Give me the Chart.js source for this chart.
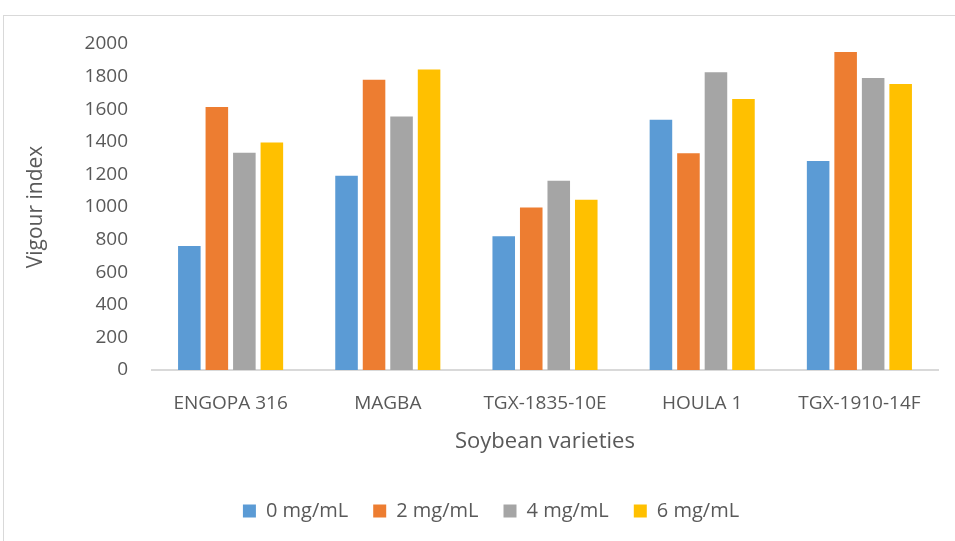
<!DOCTYPE html>
<html>
<head>
<meta charset="utf-8">
<script src="https://cdn.jsdelivr.net/npm/chart.js@4.4.1/dist/chart.umd.min.js"></script>
<style>
  html, body { margin: 0; padding: 0; background: #fff; }
  #wrap { position: relative; width: 955px; height: 541px; overflow: hidden; }
  #frame { position: absolute; left: 3px; top: 15px; width: 980px; height: 560px; border: 1px solid #d9d9d9; }
  canvas { position: absolute; left: 0; top: 0; }
</style>
</head>
<body>
<div id="wrap">
  <div id="frame"></div>
  <canvas id="grafico" width="955" height="541"></canvas>
</div>
<script>
// Dados do gráfico
const variedades = ["ENGOPA 316", "MAGBA", "TGX-1835-10E", "HOULA 1", "TGX-1910-14F"];
const dose0 = [761, 1192, 820, 1536, 1282];
const dose2 = [1614, 1781, 997, 1329, 1951];
const dose4 = [1333, 1555, 1161, 1826, 1791];
const dose6 = [1395, 1844, 1044, 1662, 1754];
const rotulosDoses = ["0 mg/mL", "2 mg/mL", "4 mg/mL", "6 mg/mL"];
const cores = ["#5B9BD5", "#ED7D31", "#A5A5A5", "#FFC000"];

const fonte = "'Open Sans', 'Liberation Sans', sans-serif";
const cinza = "#595959";

const series = [dose0, dose2, dose4, dose6];

new Chart(document.getElementById("grafico").getContext("2d"), {
    type: "bar",
    data: {
        labels: variedades,
        datasets: series.map((valores, i) => ({
            label: rotulosDoses[i],
            data: valores,
            backgroundColor: cores[i],
            borderWidth: 0,
            barPercentage: 0.82,
            categoryPercentage: 0.7
        }))
    },
    options: {
        responsive: false,
        animation: false,
        layout: { padding: { top: 44, right: 17, left: 44, bottom: 10 } },
        plugins: {
            tooltip: { enabled: false },
            legend: {
                position: "bottom",
                labels: {
                    boxWidth: 13,
                    boxHeight: 13,
                    padding: 25,
                    color: cinza,
                    font: { family: fonte, size: 20 }
                }
            }
        },
        scales: {
            x: {
                grid: { display: false },
                border: { color: "#d9d9d9", width: 2 },
                ticks: { color: cinza, font: { family: fonte, size: 19 }, padding: 14 },
                title: {
                    display: true,
                    text: "Soybean varieties",
                    color: cinza,
                    font: { family: fonte, size: 22 },
                    padding: { top: 0, bottom: 21 }
                },
                afterFit: (escala) => { escala.height = 106; }
            },
            y: {
                min: 0,
                max: 2000,
                grid: { display: false },
                border: { display: false },
                ticks: {
                    stepSize: 200,
                    color: cinza,
                    font: { family: fonte, size: 19 },
                    padding: 16,
                    callback: (valor) => String(valor)
                },
                title: {
                    display: true,
                    text: "Vigour index",
                    color: cinza,
                    font: { family: fonte, size: 21 },
                    padding: { top: -21, bottom: 0 }
                },
                afterFit: (escala) => { escala.width = 108; }
            }
        }
    }
});
</script>
</body>
</html>
